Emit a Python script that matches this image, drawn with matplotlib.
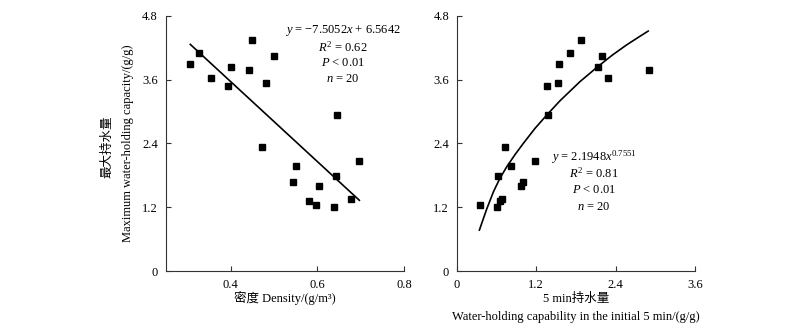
import numpy as np
import matplotlib
matplotlib.use("Agg")
import matplotlib.pyplot as plt

plt.rcParams['font.family'] = ['Liberation Serif', 'Noto Sans CJK SC']
plt.rcParams['mathtext.fontset'] = 'custom'
plt.rcParams['mathtext.rm'] = 'Liberation Serif'
plt.rcParams['mathtext.it'] = 'Liberation Serif:italic'

# max water-holding capacity (g/g), shared by both panels
density = [0.307, 0.327, 0.354, 0.393, 0.401, 0.442, 0.450, 0.482, 0.500, 0.472,
           0.543, 0.550, 0.581, 0.596, 0.605, 0.638, 0.642, 0.646, 0.677, 0.697]
max_wh_left = [3.90, 4.09, 3.62, 3.47, 3.84, 3.78, 4.35, 3.54, 4.04, 2.33,
               1.67, 1.97, 1.31, 1.24, 1.59, 1.20, 1.79, 2.93, 1.36, 2.07]

wh5 = [0.357, 0.603, 0.628, 0.659, 0.679, 0.734, 0.820, 0.965, 1.000, 1.176,
       1.362, 1.378, 1.533, 1.549, 1.714, 1.875, 2.127, 2.192, 2.288, 2.901]
max_wh_right = [1.24, 1.20, 1.79, 1.31, 1.36, 2.33, 1.97, 1.59, 1.67, 2.07,
                3.47, 2.93, 3.54, 3.90, 4.09, 4.35, 3.84, 4.04, 3.62, 3.78]

# fitted lines
lin_x = [0.307, 0.697]
lin_y = [4.26, 1.33]
curve_x = [0.341, 0.45, 0.553, 0.65, 0.754, 0.88, 1.005, 1.18, 1.357,
           1.558, 1.86, 2.127, 2.35, 2.564, 2.75, 2.89]
curve_y = [0.77, 1.16, 1.49, 1.74, 1.96, 2.19, 2.40, 2.68, 2.93,
           3.20, 3.56, 3.84, 4.06, 4.25, 4.40, 4.51]

yticks = [0, 1.2, 2.4, 3.6, 4.8]
ytick_labels = ['0', '1.2', '2.4', '3.6', '4.8']

fig = plt.figure(figsize=(8, 3.33), dpi=100)
ax1 = fig.add_axes([0.207, 0.186, 0.298, 0.767])
ax2 = fig.add_axes([0.571, 0.186, 0.298, 0.767])

fs = 9
for ax in (ax1, ax2):
    for s in ('top', 'right'):
        ax.spines[s].set_visible(False)
    for s in ('left', 'bottom'):
        ax.spines[s].set_linewidth(0.8)
        ax.spines[s].set_color('#333333')
    ax.tick_params(direction='in', length=3.5, width=0.8, color='#333333',
                   labelsize=fs, pad=5.5)
    ax.set_ylim(0, 4.8)
    ax.set_yticks(yticks)
    ax.set_yticklabels(ytick_labels)

# left panel
ax1.plot(density, max_wh_left, 's', color='black', ms=4.5)
ax1.plot(lin_x, lin_y, '-', color='black', lw=1.2)
ax1.set_xlim(0.25, 0.8)
ax1.set_xticks([0.4, 0.6, 0.8])
ax1.set_xticklabels(['0.4', '0.6', '0.8'])
ax1.text(0.5, -0.106, '密度 Density/(g/m³)', transform=ax1.transAxes,
         ha='center', va='center', fontsize=fs)
ax1.text(-0.245, 0.485, '最大持水量', transform=ax1.transAxes, rotation=90,
         ha='center', va='center', fontsize=fs)
ax1.text(-0.158, 0.5, 'Maximum water-holding capacity/(g/g)', transform=ax1.transAxes,
         rotation=90, ha='center', va='center', fontsize=fs)
eq1 = ['$y$ = −7.5052$x$ + 6.5642', '$R^2$ = 0.62', '$P$ < 0.01', '$n$ = 20']
for i, t in enumerate(eq1):
    ax1.text(0.743, 0.94 - i * 0.063, t, transform=ax1.transAxes,
             ha='center', va='center', fontsize=fs)

# right panel
ax2.plot(wh5, max_wh_right, 's', color='black', ms=4.5)
ax2.plot(curve_x, curve_y, '-', color='black', lw=1.2)
ax2.set_xlim(0, 3.6)
ax2.set_xticks([0, 1.2, 2.4, 3.6])
ax2.set_xticklabels(['0', '1.2', '2.4', '3.6'])
ax2.text(0.5, -0.11, '5 min持水量', transform=ax2.transAxes,
         ha='center', va='center', fontsize=fs)
ax2.text(0.5, -0.18, 'Water-holding capability in the initial 5 min/(g/g)',
         transform=ax2.transAxes, ha='center', va='center', fontsize=fs)
eq2 = ['$y$ = 2.1948$x^{0.7551}$', '$R^2$ = 0.81', '$P$ < 0.01', '$n$ = 20']
for i, t in enumerate(eq2):
    ax2.text(0.575, 0.447 - i * 0.065, t, transform=ax2.transAxes,
             ha='center', va='center', fontsize=fs)

fig.savefig('out.png', dpi=100)
